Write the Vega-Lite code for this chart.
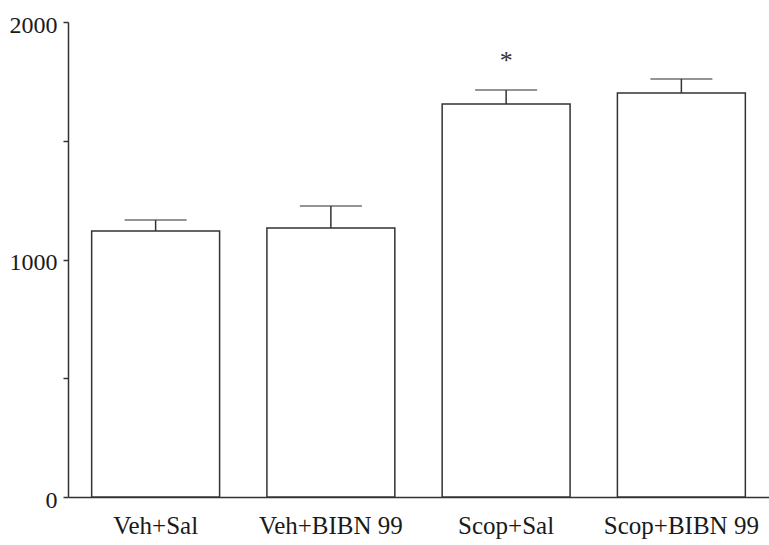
{
  "$schema": "https://vega.github.io/schema/vega-lite/v6.json",
  "width": 701,
  "height": 475,
  "autosize": "none",
  "padding": {"left": 68, "top": 22, "right": 0, "bottom": 48},
  "background": "white",
  "config": {
    "view": {"stroke": null},
    "font": "Liberation Serif",
    "axis": {"grid": false, "domainColor": "#333", "tickColor": "#333", "labelColor": "#1a1a1a", "labelFont": "Liberation Serif", "domainWidth": 1.5, "tickWidth": 1.5}
  },
  "data": {
    "values": [
      {"group": "Veh+Sal", "mean": 1120, "upper": 1166, "star": ""},
      {"group": "Veh+BIBN 99", "mean": 1133, "upper": 1225, "star": ""},
      {"group": "Scop+Sal", "mean": 1655, "upper": 1714, "star": "*"},
      {"group": "Scop+BIBN 99", "mean": 1701, "upper": 1760, "star": ""}
    ]
  },
  "encoding": {
    "x": {
      "field": "group",
      "type": "nominal",
      "sort": null,
      "scale": {"paddingInner": 0.27, "paddingOuter": 0.135},
      "axis": {"title": null, "labelAngle": 0, "labelFontSize": 25, "ticks": false, "labelBaseline": "alphabetic", "labelPadding": 36}
    }
  },
  "layer": [
    {
      "mark": {"type": "rule", "stroke": "#333", "strokeWidth": 1.5},
      "encoding": {
        "y": {"field": "mean", "type": "quantitative"},
        "y2": {"field": "upper"}
      }
    },
    {
      "mark": {"type": "tick", "color": "#333", "size": 62, "thickness": 1.5},
      "encoding": {
        "y": {"field": "upper", "type": "quantitative"}
      }
    },
    {
      "mark": {"type": "bar", "fill": "white", "stroke": "#333", "strokeWidth": 1.5},
      "encoding": {
        "y": {
          "field": "mean",
          "type": "quantitative",
          "scale": {"domain": [0, 2000], "nice": false},
          "axis": {"title": null, "values": [0, 500, 1000, 1500, 2000], "labelExpr": "datum.value % 1000 === 0 ? datum.value : ''", "labelFontSize": 24, "tickSize": 5, "labelPadding": 6, "labelOffset": 3}
        }
      }
    },
    {
      "mark": {"type": "text", "fontSize": 26, "color": "#333", "baseline": "middle", "font": "Liberation Serif"},
      "encoding": {
        "y": {"datum": 1835, "type": "quantitative"},
        "text": {"field": "star"}
      }
    }
  ]
}
